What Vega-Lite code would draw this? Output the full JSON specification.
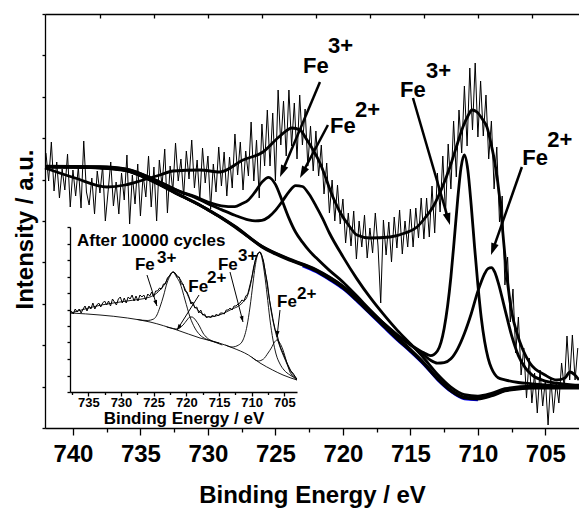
{
"$schema": "https://vega.github.io/schema/vega-lite/v6.json",
"width": 534, "height": 414,
"autosize": {"type": "none"},
"padding": {"left": 45, "top": 14, "right": 0, "bottom": 81},
"config": {"view": {"stroke": null},
 "axis": {"grid": false, "domainColor": "#000", "tickColor": "#000", "labelColor": "#000", "titleColor": "#000", "labelFont": "Liberation Sans", "titleFont": "Liberation Sans", "labelFontWeight": "bold", "titleFontWeight": "bold", "labelFlush": false, "labelOverlap": false, "domainWidth": 1.3, "tickWidth": 1.3},
 "text": {"font": "Liberation Sans"}},
"datasets": {
"raw": [
{"E":742.0,"I":275},{"E":741.8,"I":247},{"E":741.6,"I":286},{"E":741.4,"I":237},{"E":741.2,"I":266},{"E":741.0,"I":230},{"E":740.8,"I":259},{"E":740.6,"I":238},{"E":740.4,"I":274},{"E":740.2,"I":221},
{"E":740.0,"I":258},{"E":739.8,"I":232},{"E":739.6,"I":261},{"E":739.4,"I":220},{"E":739.2,"I":287},{"E":739.0,"I":236},{"E":738.8,"I":223},{"E":738.6,"I":250},{"E":738.4,"I":214},{"E":738.2,"I":257},
{"E":738.0,"I":235},{"E":737.8,"I":262},{"E":737.6,"I":207},{"E":737.4,"I":236},{"E":737.2,"I":266},{"E":737.0,"I":222},{"E":736.8,"I":246},{"E":736.6,"I":214},{"E":736.4,"I":255},{"E":736.2,"I":228},
{"E":736.0,"I":273},{"E":735.8,"I":204},{"E":735.6,"I":253},{"E":735.4,"I":224},{"E":735.2,"I":264},{"E":735.0,"I":212},{"E":734.8,"I":253},{"E":734.6,"I":231},{"E":734.4,"I":272},{"E":734.2,"I":221},
{"E":734.0,"I":261},{"E":733.8,"I":207},{"E":733.6,"I":268},{"E":733.4,"I":242},{"E":733.2,"I":279},{"E":733.0,"I":215},{"E":732.8,"I":262},{"E":732.6,"I":237},{"E":732.4,"I":285},{"E":732.2,"I":247},
{"E":732.0,"I":269},{"E":731.8,"I":232},{"E":731.6,"I":277},{"E":731.4,"I":249},{"E":731.2,"I":288},{"E":731.0,"I":240},{"E":730.8,"I":268},{"E":730.6,"I":228},{"E":730.4,"I":280},{"E":730.2,"I":245},
{"E":730.0,"I":272},{"E":729.8,"I":219},{"E":729.6,"I":264},{"E":729.4,"I":236},{"E":729.2,"I":281},{"E":729.0,"I":242},{"E":728.8,"I":276},{"E":728.6,"I":232},{"E":728.4,"I":271},{"E":728.2,"I":240},
{"E":728.0,"I":294},{"E":727.8,"I":253},{"E":727.6,"I":286},{"E":727.4,"I":238},{"E":727.2,"I":277},{"E":727.0,"I":252},{"E":726.8,"I":306},{"E":726.6,"I":247},{"E":726.4,"I":288},{"E":726.2,"I":230},
{"E":726.0,"I":304},{"E":725.8,"I":262},{"E":725.6,"I":318},{"E":725.4,"I":262},{"E":725.2,"I":315},{"E":725.0,"I":247},{"E":724.8,"I":338},{"E":724.6,"I":283},{"E":724.4,"I":327},{"E":724.2,"I":272},
{"E":724.0,"I":338},{"E":723.8,"I":282},{"E":723.6,"I":325},{"E":723.4,"I":269},{"E":723.2,"I":333},{"E":723.0,"I":283},{"E":722.8,"I":319},{"E":722.6,"I":262},{"E":722.4,"I":302},{"E":722.2,"I":257},
{"E":722.0,"I":297},{"E":721.8,"I":252},{"E":721.6,"I":283},{"E":721.4,"I":234},{"E":721.2,"I":265},{"E":721.0,"I":215},{"E":720.8,"I":248},{"E":720.6,"I":207},{"E":720.4,"I":243},{"E":720.2,"I":204},
{"E":720.0,"I":229},{"E":719.8,"I":185},{"E":719.6,"I":215},{"E":719.4,"I":182},{"E":719.2,"I":217},{"E":719.0,"I":169},{"E":718.8,"I":207},{"E":718.6,"I":181},{"E":718.4,"I":213},{"E":718.2,"I":170},
{"E":718.0,"I":200},{"E":717.8,"I":175},{"E":717.6,"I":215},{"E":717.4,"I":182},{"E":717.2,"I":125},{"E":717.0,"I":208},{"E":716.8,"I":173},{"E":716.6,"I":206},{"E":716.4,"I":166},{"E":716.2,"I":211},
{"E":716.0,"I":180},{"E":715.8,"I":218},{"E":715.6,"I":174},{"E":715.4,"I":207},{"E":715.2,"I":181},{"E":715.0,"I":219},{"E":714.8,"I":181},{"E":714.6,"I":220},{"E":714.4,"I":190},{"E":714.2,"I":230},
{"E":714.0,"I":189},{"E":713.8,"I":230},{"E":713.6,"I":191},{"E":713.4,"I":242},{"E":713.2,"I":195},{"E":713.0,"I":255},{"E":712.8,"I":216},{"E":712.6,"I":272},{"E":712.4,"I":214},{"E":712.2,"I":284},
{"E":712.0,"I":239},{"E":711.8,"I":307},{"E":711.6,"I":251},{"E":711.4,"I":318},{"E":711.2,"I":275},{"E":711.0,"I":342},{"E":710.8,"I":282},{"E":710.6,"I":360},{"E":710.4,"I":298},{"E":710.2,"I":365},
{"E":710.0,"I":291},{"E":709.8,"I":347},{"E":709.6,"I":292},{"E":709.4,"I":333},{"E":709.2,"I":269},{"E":709.0,"I":307},{"E":708.8,"I":239},{"E":708.6,"I":281},{"E":708.4,"I":206},{"E":708.2,"I":232},
{"E":708.0,"I":143},{"E":707.8,"I":171},{"E":707.6,"I":106},{"E":707.4,"I":139},{"E":707.2,"I":75},{"E":707.0,"I":111},{"E":706.8,"I":53},{"E":706.6,"I":80},{"E":706.4,"I":30},{"E":706.2,"I":70},
{"E":706.0,"I":25},{"E":705.8,"I":55},{"E":705.6,"I":15},{"E":705.4,"I":58},{"E":705.2,"I":22},{"E":705.0,"I":48},{"E":704.8,"I":3},{"E":704.6,"I":50},{"E":704.4,"I":15},{"E":704.2,"I":45},
{"E":704.0,"I":25},{"E":703.8,"I":65},{"E":703.6,"I":40},{"E":703.4,"I":92},{"E":703.2,"I":48},{"E":703.0,"I":93},{"E":702.8,"I":48},{"E":702.6,"I":80}
],
"blue": [
{"E":723,"I":161.5},{"E":722,"I":155.6},{"E":721,"I":147.6},{"E":720,"I":138.5},{"E":719,"I":126.6},{"E":718,"I":113.6},{"E":717,"I":100.5},{"E":716,"I":87.6},{"E":715,"I":75.6},{"E":714,"I":62.6},{"E":713,"I":47.6},{"E":712,"I":35.8},{"E":711,"I":28.6},{"E":710,"I":27.6}
],
"fits": [
{"s":"bg","E":742,"I":261},{"s":"bg","E":740,"I":261},{"s":"bg","E":738,"I":260},{"s":"bg","E":736,"I":257},{"s":"bg","E":734,"I":246},{"s":"bg","E":732,"I":232},{"s":"bg","E":731,"I":226},{"s":"bg","E":730,"I":218},{"s":"bg","E":729,"I":210},{"s":"bg","E":728,"I":201},{"s":"bg","E":727,"I":191},{"s":"bg","E":726,"I":181},{"s":"bg","E":725,"I":174},{"s":"bg","E":724,"I":168},{"s":"bg","E":723,"I":163},{"s":"bg","E":722,"I":157},{"s":"bg","E":721,"I":149},{"s":"bg","E":720,"I":140},{"s":"bg","E":719,"I":128},{"s":"bg","E":718,"I":115},{"s":"bg","E":717,"I":102},{"s":"bg","E":716,"I":89},{"s":"bg","E":715,"I":77},{"s":"bg","E":714,"I":64},{"s":"bg","E":713,"I":49},{"s":"bg","E":712,"I":37},{"s":"bg","E":711,"I":30},{"s":"bg","E":710,"I":29},{"s":"bg","E":709,"I":32},{"s":"bg","E":708,"I":37},{"s":"bg","E":707,"I":39},{"s":"bg","E":706,"I":40},{"s":"bg","E":704,"I":40},{"s":"bg","E":702.51,"I":40},
{"s":"A","E":742,"I":261.7},{"s":"A","E":738,"I":261.2},{"s":"A","E":736,"I":258.7},{"s":"A","E":734,"I":248.5},{"s":"A","E":732,"I":236.1},{"s":"A","E":731,"I":231.6},{"s":"A","E":730,"I":226},{"s":"A","E":729,"I":222.2},{"s":"A","E":728,"I":221.3},{"s":"A","E":727.5,"I":224.2},{"s":"A","E":727,"I":228},{"s":"A","E":726.5,"I":236.2},{"s":"A","E":726,"I":245.9},{"s":"A","E":725.5,"I":250.7},{"s":"A","E":725,"I":243.6},{"s":"A","E":724.5,"I":227.2},{"s":"A","E":724,"I":209.9},{"s":"A","E":723.5,"I":195.7},{"s":"A","E":723,"I":185.8},{"s":"A","E":722.5,"I":177.3},{"s":"A","E":722,"I":170.4},{"s":"A","E":721,"I":157.6},{"s":"A","E":720,"I":146},{"s":"A","E":719,"I":132.4},{"s":"A","E":718,"I":118.3},{"s":"A","E":717,"I":104.6},{"s":"A","E":716,"I":91.1},{"s":"A","E":715,"I":78.7},{"s":"A","E":714,"I":65.4},{"s":"A","E":713,"I":50.2},{"s":"A","E":712,"I":38},{"s":"A","E":711,"I":30.9},{"s":"A","E":710,"I":29.8},{"s":"A","E":709,"I":32.7},{"s":"A","E":708,"I":37.6},{"s":"A","E":707,"I":39.6},{"s":"A","E":706,"I":40.5},{"s":"A","E":704,"I":40.4},{"s":"A","E":702.51,"I":40.35},
{"s":"B","E":742,"I":261.9},{"s":"B","E":738,"I":261.4},{"s":"B","E":736,"I":258.9},{"s":"B","E":734,"I":248.6},{"s":"B","E":732,"I":235.9},{"s":"B","E":731,"I":230.9},{"s":"B","E":730,"I":224.3},{"s":"B","E":729,"I":218.4},{"s":"B","E":728,"I":212.7},{"s":"B","E":727,"I":208.1},{"s":"B","E":726.5,"I":207.2},{"s":"B","E":726,"I":207.7},{"s":"B","E":725.5,"I":211},{"s":"B","E":725,"I":217.6},{"s":"B","E":724.5,"I":226.5},{"s":"B","E":724,"I":236.1},{"s":"B","E":723.5,"I":242.3},{"s":"B","E":723,"I":241.5},{"s":"B","E":722.5,"I":233.7},{"s":"B","E":722,"I":222.1},{"s":"B","E":721.5,"I":209.3},{"s":"B","E":721,"I":195},{"s":"B","E":720,"I":171.4},{"s":"B","E":719,"I":149.9},{"s":"B","E":718,"I":130.8},{"s":"B","E":717,"I":113.8},{"s":"B","E":716,"I":98.1},{"s":"B","E":715,"I":84.2},{"s":"B","E":714,"I":69.8},{"s":"B","E":713,"I":53.8},{"s":"B","E":712,"I":41},{"s":"B","E":711,"I":33.4},{"s":"B","E":710,"I":31.9},{"s":"B","E":709,"I":34.6},{"s":"B","E":708,"I":39.3},{"s":"B","E":706,"I":41.8},{"s":"B","E":704,"I":41.4},{"s":"B","E":702.51,"I":41.2},
{"s":"C","E":742,"I":261.1},{"s":"C","E":738,"I":260.2},{"s":"C","E":736,"I":257.2},{"s":"C","E":734,"I":246.3},{"s":"C","E":732,"I":232.4},{"s":"C","E":730,"I":218.3},{"s":"C","E":728,"I":201.4},{"s":"C","E":726,"I":181.5},{"s":"C","E":724,"I":168.7},{"s":"C","E":722,"I":158},{"s":"C","E":720,"I":141.3},{"s":"C","E":719,"I":129.7},{"s":"C","E":718,"I":117.2},{"s":"C","E":717,"I":104.9},{"s":"C","E":716,"I":93.2},{"s":"C","E":715,"I":83.5},{"s":"C","E":714,"I":75.2},{"s":"C","E":713.5,"I":72.3},{"s":"C","E":713,"I":77},{"s":"C","E":712.5,"I":99.5},{"s":"C","E":712,"I":151},{"s":"C","E":711.75,"I":188.6},{"s":"C","E":711.5,"I":228},{"s":"C","E":711.25,"I":260.4},{"s":"C","E":711,"I":273},{"s":"C","E":710.75,"I":258.4},{"s":"C","E":710.5,"I":223.4},{"s":"C","E":710.25,"I":181.7},{"s":"C","E":710,"I":143},{"s":"C","E":709.75,"I":110.1},{"s":"C","E":709.5,"I":86.5},{"s":"C","E":709.25,"I":70.2},{"s":"C","E":709,"I":60},{"s":"C","E":708.75,"I":53.8},{"s":"C","E":708.5,"I":50.3},{"s":"C","E":708,"I":48.2},{"s":"C","E":707,"I":45.5},{"s":"C","E":706,"I":44.2},{"s":"C","E":705,"I":43},{"s":"C","E":704,"I":42.2},{"s":"C","E":702.51,"I":41.5},
{"s":"D","E":742,"I":261.2},{"s":"D","E":738,"I":260.3},{"s":"D","E":736,"I":257.4},{"s":"D","E":734,"I":246.4},{"s":"D","E":732,"I":232.5},{"s":"D","E":730,"I":218.5},{"s":"D","E":728,"I":201.8},{"s":"D","E":726,"I":181.8},{"s":"D","E":724,"I":169.2},{"s":"D","E":722,"I":158.5},{"s":"D","E":720,"I":141.9},{"s":"D","E":718,"I":117.8},{"s":"D","E":717,"I":104.9},{"s":"D","E":716,"I":93.5},{"s":"D","E":715,"I":83.1},{"s":"D","E":714,"I":73.1},{"s":"D","E":713.5,"I":67.7},{"s":"D","E":713,"I":64.9},{"s":"D","E":712.5,"I":65.4},{"s":"D","E":712,"I":69.2},{"s":"D","E":711.5,"I":79.2},{"s":"D","E":711,"I":94.5},{"s":"D","E":710.5,"I":114},{"s":"D","E":710,"I":136.9},{"s":"D","E":709.75,"I":146.2},{"s":"D","E":709.5,"I":154.3},{"s":"D","E":709.25,"I":159.4},{"s":"D","E":709,"I":160.4},{"s":"D","E":708.75,"I":155.8},{"s":"D","E":708.5,"I":145.7},{"s":"D","E":708,"I":118.9},{"s":"D","E":707.5,"I":92.3},{"s":"D","E":707,"I":72.4},{"s":"D","E":706.5,"I":60.4},{"s":"D","E":706,"I":53.1},{"s":"D","E":705,"I":46.9},{"s":"D","E":704,"I":44.5},{"s":"D","E":703,"I":43.2},{"s":"D","E":702.51,"I":42.8},
{"s":"env","E":742.07,"I":260},{"s":"env","E":739.85,"I":250},{"s":"env","E":737.48,"I":241},{"s":"env","E":736.14,"I":243},{"s":"env","E":734.81,"I":248},{"s":"env","E":733.55,"I":253},{"s":"env","E":732.59,"I":257},{"s":"env","E":730.59,"I":258},{"s":"env","E":729.11,"I":256},{"s":"env","E":727.4,"I":268},{"s":"env","E":725.92,"I":276},{"s":"env","E":724.66,"I":292},{"s":"env","E":723.77,"I":300},{"s":"env","E":723.18,"I":298},{"s":"env","E":722.66,"I":288},{"s":"env","E":721.7,"I":265},{"s":"env","E":720.74,"I":231},{"s":"env","E":720.22,"I":216},{"s":"env","E":719.48,"I":201},{"s":"env","E":718.96,"I":193},{"s":"env","E":718.0,"I":190},{"s":"env","E":716.51,"I":191},{"s":"env","E":715.4,"I":195},{"s":"env","E":714.51,"I":201},{"s":"env","E":713.92,"I":210},{"s":"env","E":713.33,"I":221},{"s":"env","E":712.66,"I":240},{"s":"env","E":712.07,"I":261},{"s":"env","E":711.55,"I":283},{"s":"env","E":711.11,"I":301},{"s":"env","E":710.74,"I":312},{"s":"env","E":710.44,"I":318},{"s":"env","E":710.07,"I":316},{"s":"env","E":709.63,"I":308},{"s":"env","E":709.33,"I":301},{"s":"env","E":709.04,"I":285},{"s":"env","E":708.74,"I":265},{"s":"env","E":708.37,"I":228},{"s":"env","E":708.07,"I":183},{"s":"env","E":707.78,"I":143},{"s":"env","E":707.48,"I":115},{"s":"env","E":707.11,"I":95},{"s":"env","E":706.66,"I":78},{"s":"env","E":706.15,"I":65},{"s":"env","E":705.03,"I":53},{"s":"env","E":704.15,"I":48},{"s":"env","E":703.55,"I":50},{"s":"env","E":703.18,"I":56},{"s":"env","E":702.81,"I":53},{"s":"env","E":702.51,"I":48}
],
"arrows": [
{"E":721.7,"I":346,"E2":724.49,"I2":256.5},
{"E":721.11,"I":303,"E2":722.98,"I2":255.3},
{"E":714.81,"I":330,"E2":712.2,"I2":208.8},
{"E":706.74,"I":261,"E2":708.88,"I2":178.7}
],
"labels": [
{"E":722.96,"I":355,"t":"Fe"},{"E":721.11,"I":375,"t":"3+"},
{"E":720.96,"I":294.7,"t":"Fe"},{"E":719.11,"I":311.3,"t":"2+"},
{"E":715.77,"I":331.3,"t":"Fe"},{"E":713.85,"I":349.7,"t":"3+"},
{"E":706.71,"I":263,"t":"Fe"},{"E":704.86,"I":281.3,"t":"2+"}
],
"iraw": [
{"E":737.6,"I":81},{"E":737.3,"I":78},{"E":737.0,"I":83},{"E":736.7,"I":80},{"E":736.4,"I":83},{"E":736.1,"I":79},{"E":735.8,"I":83},{"E":735.5,"I":86},{"E":735.2,"I":81},{"E":734.9,"I":86},
{"E":734.6,"I":83},{"E":734.3,"I":89},{"E":734.0,"I":83},{"E":733.7,"I":87},{"E":733.4,"I":89},{"E":733.1,"I":85},{"E":732.8,"I":89},{"E":732.5,"I":91},{"E":732.2,"I":87},{"E":731.9,"I":91},
{"E":731.6,"I":86},{"E":731.3,"I":93},{"E":731.0,"I":90},{"E":730.7,"I":87},{"E":730.4,"I":93},{"E":730.1,"I":95},{"E":729.8,"I":89},{"E":729.5,"I":94},{"E":729.2,"I":89},{"E":728.9,"I":95},
{"E":728.6,"I":93},{"E":728.3,"I":97},{"E":728.0,"I":91},{"E":727.7,"I":96},{"E":727.4,"I":91},{"E":727.1,"I":97},{"E":726.8,"I":95},{"E":726.5,"I":97},{"E":726.2,"I":92},{"E":725.9,"I":98},
{"E":725.6,"I":96},{"E":725.3,"I":100},{"E":725.0,"I":95},{"E":724.7,"I":101},{"E":724.4,"I":101},{"E":724.1,"I":104},{"E":723.8,"I":103},{"E":723.5,"I":108},{"E":723.2,"I":108},{"E":722.9,"I":114},
{"E":722.6,"I":116},{"E":722.3,"I":119},{"E":722.0,"I":120},{"E":721.7,"I":119},{"E":721.4,"I":115},{"E":721.1,"I":115},{"E":720.8,"I":108},{"E":720.5,"I":108},{"E":720.2,"I":101},{"E":719.9,"I":100},
{"E":719.6,"I":95},{"E":719.3,"I":88},{"E":719.0,"I":90},{"E":718.7,"I":84},{"E":718.4,"I":85},{"E":718.1,"I":79},{"E":717.8,"I":82},{"E":717.5,"I":77},{"E":717.2,"I":78},{"E":716.9,"I":74},
{"E":716.6,"I":76},{"E":716.3,"I":74},{"E":716.0,"I":77},{"E":715.7,"I":75},{"E":715.4,"I":78},{"E":715.1,"I":76},{"E":714.8,"I":79},{"E":714.5,"I":79},{"E":714.2,"I":78},{"E":713.9,"I":82},
{"E":713.6,"I":82},{"E":713.3,"I":84},{"E":713.0,"I":82},{"E":712.7,"I":86},{"E":712.4,"I":86},{"E":712.1,"I":88},{"E":711.8,"I":89},{"E":711.5,"I":92},{"E":711.2,"I":91},{"E":710.9,"I":96},
{"E":710.6,"I":98},{"E":710.3,"I":106},{"E":710.0,"I":114},{"E":709.7,"I":125},{"E":709.4,"I":133},{"E":709.1,"I":138},{"E":708.8,"I":140},{"E":708.5,"I":137},{"E":708.2,"I":131},{"E":707.9,"I":119},
{"E":707.6,"I":109},{"E":707.3,"I":93},{"E":707.0,"I":82},{"E":706.7,"I":71},{"E":706.4,"I":62},{"E":706.1,"I":57},{"E":705.8,"I":49},{"E":705.5,"I":43},{"E":705.2,"I":39},{"E":704.9,"I":34},
{"E":704.6,"I":29},{"E":704.3,"I":25},{"E":704.0,"I":21},{"E":703.7,"I":19},{"E":703.4,"I":16},{"E":703.1,"I":13}
],
"ifits": [
{"s":"bg","E":737.65,"I":79},{"s":"bg","E":733.21,"I":77},{"s":"bg","E":729.0,"I":74},{"s":"bg","E":725.56,"I":70},{"s":"bg","E":721.43,"I":62},{"s":"bg","E":717.91,"I":54},{"s":"bg","E":715.0,"I":49},{"s":"bg","E":712.86,"I":44},{"s":"bg","E":710.5,"I":37},{"s":"bg","E":708.73,"I":29},{"s":"bg","E":706.8,"I":22},{"s":"bg","E":705.21,"I":17},{"s":"bg","E":704.0,"I":14},{"s":"bg","E":703.07,"I":12},
{"s":"A","E":727.5,"I":72.5},{"s":"A","E":726,"I":71.5},{"s":"A","E":725,"I":73},{"s":"A","E":724.5,"I":77},{"s":"A","E":724.03,"I":85},{"s":"A","E":723.5,"I":96},{"s":"A","E":722.96,"I":109},{"s":"A","E":722.5,"I":116},{"s":"A","E":722.04,"I":120},{"s":"A","E":721.5,"I":115},{"s":"A","E":720.97,"I":109},{"s":"A","E":720.2,"I":92},{"s":"A","E":719.44,"I":75},{"s":"A","E":718.7,"I":64},{"s":"A","E":717.91,"I":57},{"s":"A","E":717.0,"I":53},{"s":"A","E":716.38,"I":51.5},{"s":"A","E":715.5,"I":49.5},{"s":"A","E":714.5,"I":47},
{"s":"B","E":723,"I":65},{"s":"B","E":722,"I":63.5},{"s":"B","E":721.43,"I":63},{"s":"B","E":720.5,"I":67},{"s":"B","E":719.9,"I":72},{"s":"B","E":719.44,"I":75},{"s":"B","E":719.13,"I":75},{"s":"B","E":718.6,"I":72},{"s":"B","E":718.0,"I":66},{"s":"B","E":717.45,"I":59},{"s":"B","E":716.8,"I":54},{"s":"B","E":716.0,"I":51},{"s":"B","E":715,"I":49},
{"s":"C","E":714,"I":47},{"s":"C","E":713.0,"I":45},{"s":"C","E":712.0,"I":47},{"s":"C","E":711.33,"I":52},{"s":"C","E":710.72,"I":66},{"s":"C","E":710.26,"I":85},{"s":"C","E":709.8,"I":109},{"s":"C","E":709.49,"I":125},{"s":"C","E":709.04,"I":138},{"s":"C","E":708.73,"I":140},{"s":"C","E":708.4,"I":133},{"s":"C","E":707.97,"I":115},{"s":"C","E":707.66,"I":98},{"s":"C","E":707.2,"I":72},{"s":"C","E":706.74,"I":52},{"s":"C","E":706.28,"I":38},{"s":"C","E":705.67,"I":28},{"s":"C","E":705.06,"I":22},{"s":"C","E":704.15,"I":17},{"s":"C","E":703.07,"I":13},
{"s":"D","E":710,"I":35},{"s":"D","E":709,"I":31},{"s":"D","E":708.2,"I":33},{"s":"D","E":707.5,"I":39},{"s":"D","E":707.0,"I":44},{"s":"D","E":706.5,"I":50},{"s":"D","E":706.13,"I":52},{"s":"D","E":705.7,"I":49},{"s":"D","E":705.21,"I":42},{"s":"D","E":704.7,"I":31},{"s":"D","E":704.15,"I":20},{"s":"D","E":703.6,"I":15},{"s":"D","E":703.07,"I":12},
{"s":"env","E":737.65,"I":79},{"s":"env","E":733.0,"I":87},{"s":"env","E":729.08,"I":91},{"s":"env","E":725.56,"I":95},{"s":"env","E":724.5,"I":99},{"s":"env","E":724.03,"I":102},{"s":"env","E":723.5,"I":106},{"s":"env","E":722.96,"I":112},{"s":"env","E":722.5,"I":117},{"s":"env","E":722.04,"I":120},{"s":"env","E":721.5,"I":117},{"s":"env","E":720.97,"I":113},{"s":"env","E":720.2,"I":103},{"s":"env","E":719.44,"I":92},{"s":"env","E":718.7,"I":85},{"s":"env","E":717.91,"I":80},{"s":"env","E":716.69,"I":75},{"s":"env","E":715.5,"I":76},{"s":"env","E":714.54,"I":78},{"s":"env","E":713.0,"I":83},{"s":"env","E":712.0,"I":86},{"s":"env","E":711.3,"I":90},{"s":"env","E":710.72,"I":95},{"s":"env","E":710.26,"I":105},{"s":"env","E":709.8,"I":120},{"s":"env","E":709.3,"I":135},{"s":"env","E":708.73,"I":140},{"s":"env","E":708.3,"I":133},{"s":"env","E":707.97,"I":122},{"s":"env","E":707.51,"I":102},{"s":"env","E":707.0,"I":80},{"s":"env","E":706.28,"I":58},{"s":"env","E":705.67,"I":45},{"s":"env","E":705.06,"I":35},{"s":"env","E":704.15,"I":22},{"s":"env","E":703.07,"I":13}
],
"iarrows": [
{"E":726.02,"I":117,"E2":724.49,"I2":86},
{"E":718.06,"I":97,"E2":721.43,"I2":62},
{"E":713.32,"I":120,"E2":711.33,"I2":70},
{"E":705.67,"I":82,"E2":706.13,"I2":55}
],
"ilabels": [
{"E":727.86,"I":122,"t":"Fe"},{"E":724.49,"I":129,"t":"3+"},
{"E":719.7,"I":100.3,"t":"Fe"},{"E":716.84,"I":109,"t":"2+"},
{"E":715.16,"I":122,"t":"Fe"},{"E":712.1,"I":131,"t":"3+"},
{"E":706.13,"I":85,"t":"Fe"},{"E":703.07,"I":93,"t":"2+"},
{"E":736.73,"I":146,"t":"After 10000 cycles"}
]
},
"layer": [
{
 "encoding": {
  "x": {"field": "E", "type": "quantitative", "scale": {"domain": [742.07, 702.51], "nice": false, "zero": false}, "axis": null},
  "y": {"field": "I", "type": "quantitative", "scale": {"domain": [0, 414], "nice": false, "zero": false}, "axis": null}
 },
 "layer": [
  {"data": {"name": "raw"}, "mark": {"type": "line", "color": "#000", "strokeWidth": 1},
   "encoding": {
    "x": {"field": "E", "type": "quantitative", "scale": {"domain": [742.07, 702.51], "nice": false, "zero": false},
          "axis": {"orient": "bottom", "values": [740,735,730,725,720,715,710,705], "tickSize": 7, "labelFontSize": 24, "labelPadding": 26, "labelBaseline": "alphabetic", "title": "Binding Energy / eV", "titleFontSize": 24, "titleY": 74, "titleBaseline": "alphabetic"}},
    "y": {"field": "I", "type": "quantitative", "scale": {"domain": [0, 414], "nice": false, "zero": false},
          "axis": {"orient": "left", "values": [0,41.4,82.8,124.2,165.6,207,248.4,289.8,331.2,372.6,414], "labels": false, "tickSize": 3, "title": "Intensity / a.u.", "titleFontSize": 24, "titleX": -13, "titleY": 215, "titleAngle": -90, "titleBaseline": "alphabetic", "titleAlign": "center"}}
   }},
  {"data": {"name": "blue"}, "mark": {"type": "line", "color": "#0000ff", "strokeWidth": 1.5, "interpolate": "monotone"},
   "encoding": {
    "x": {"field": "E", "type": "quantitative", "scale": {"domain": [742.07, 702.51], "nice": false, "zero": false},
          "axis": {"orient": "bottom", "values": [737.5,732.5,727.5,722.5,717.5,712.5,707.5], "tickSize": 4, "labels": false, "domain": false, "title": null}}
   }},
  {"data": {"name": "fits"}, "mark": {"type": "line", "color": "#000", "strokeWidth": 2.8, "interpolate": "monotone"},
   "encoding": {
    "detail": {"field": "s"},
    "x": {"field": "E", "type": "quantitative", "scale": {"domain": [742.07, 702.51], "nice": false, "zero": false},
          "axis": {"orient": "top", "values": [738,734,730,726,722,718,714,710,706], "tickSize": -4, "labels": false, "title": null}}
   }},
  {"data": {"name": "arrows"}, "mark": {"type": "rule", "color": "#000", "strokeWidth": 2.5},
   "encoding": {"x2": {"field": "E2"}, "y2": {"field": "I2"}}},
  {"data": {"values": [{"E": 724.66, "I": 251}]}, "mark": {"type": "point", "shape": "M0,0L-1.3,4L1.3,4Z", "size": 36, "angle": 202.8, "filled": true, "color": "#000", "opacity": 1, "strokeWidth": 0}},
  {"data": {"values": [{"E": 723.18, "I": 250}]}, "mark": {"type": "point", "shape": "M0,0L-1.3,4L1.3,4Z", "size": 36, "angle": 207.8, "filled": true, "color": "#000", "opacity": 1, "strokeWidth": 0}},
  {"data": {"values": [{"E": 712.07, "I": 203}]}, "mark": {"type": "point", "shape": "M0,0L-1.3,4L1.3,4Z", "size": 36, "angle": 163.8, "filled": true, "color": "#000", "opacity": 1, "strokeWidth": 0}},
  {"data": {"values": [{"E": 709.03, "I": 173}]}, "mark": {"type": "point", "shape": "M0,0L-1.3,4L1.3,4Z", "size": 36, "angle": 199.4, "filled": true, "color": "#000", "opacity": 1, "strokeWidth": 0}},
  {"data": {"name": "labels"}, "mark": {"type": "text", "font": "Liberation Sans", "fontSize": 22, "fontWeight": "bold", "align": "left", "baseline": "alphabetic", "color": "#000"},
   "encoding": {"text": {"field": "t"}}}
 ],
 "resolve": {"axis": {"x": "independent", "y": "independent"}}
},
{
 "encoding": {
  "x": {"field": "E", "type": "quantitative", "scale": {"domain": [737.8, 703.07], "range": [25, 252], "nice": false, "zero": false}, "axis": null},
  "y": {"field": "I", "type": "quantitative", "scale": {"domain": [0, 165], "range": [378, 213], "nice": false, "zero": false}, "axis": null}
 },
 "layer": [
  {"data": {"name": "iraw"}, "mark": {"type": "line", "color": "#000", "strokeWidth": 1},
   "encoding": {
    "x": {"field": "E", "type": "quantitative", "scale": {"domain": [737.8, 703.07], "range": [25, 252], "nice": false, "zero": false},
          "axis": {"orient": "bottom", "offset": -36, "values": [735,730,725,720,715,710,705], "tickSize": 4, "labelFontSize": 13, "labelPadding": 10, "labelBaseline": "alphabetic", "title": "Binding Energy / eV", "titleFontSize": 17, "titleY": 31, "titleBaseline": "alphabetic"}},
    "y": {"field": "I", "type": "quantitative", "scale": {"domain": [0, 165], "range": [378, 213], "nice": false, "zero": false},
          "axis": {"orient": "left", "offset": -25, "values": [0,16.5,33,49.5,66,82.5,99,115.5,132,148.5,165], "labels": false, "tickSize": 3, "title": null}}
   }},
  {"data": {"name": "ifits"}, "mark": {"type": "line", "color": "#000", "strokeWidth": 0.9, "interpolate": "monotone"},
   "encoding": {
    "detail": {"field": "s"},
    "x": {"field": "E", "type": "quantitative", "scale": {"domain": [737.8, 703.07], "range": [25, 252], "nice": false, "zero": false},
          "axis": {"orient": "bottom", "offset": -36, "values": [737.5,732.5,727.5,722.5,717.5,712.5,707.5], "tickSize": 2.5, "labels": false, "domain": false, "title": null}}
   }},
  {"data": {"name": "iarrows"}, "mark": {"type": "rule", "color": "#000", "strokeWidth": 1},
   "encoding": {"x2": {"field": "E2"}, "y2": {"field": "I2"}}},
  {"data": {"values": [{"E": 724.49, "I": 86}]}, "mark": {"type": "point", "shape": "M0,0L-1.3,4L1.3,4Z", "size": 9, "angle": 162.1, "filled": true, "color": "#000", "opacity": 1, "strokeWidth": 0}},
  {"data": {"values": [{"E": 721.43, "I": 62}]}, "mark": {"type": "point", "shape": "M0,0L-1.3,4L1.3,4Z", "size": 9, "angle": 212.2, "filled": true, "color": "#000", "opacity": 1, "strokeWidth": 0}},
  {"data": {"values": [{"E": 711.33, "I": 70}]}, "mark": {"type": "point", "shape": "M0,0L-1.3,4L1.3,4Z", "size": 9, "angle": 165.4, "filled": true, "color": "#000", "opacity": 1, "strokeWidth": 0}},
  {"data": {"values": [{"E": 706.13, "I": 55}]}, "mark": {"type": "point", "shape": "M0,0L-1.3,4L1.3,4Z", "size": 9, "angle": 186.3, "filled": true, "color": "#000", "opacity": 1, "strokeWidth": 0}},
  {"data": {"name": "ilabels"}, "mark": {"type": "text", "font": "Liberation Sans", "fontSize": 17, "fontWeight": "bold", "align": "left", "baseline": "alphabetic", "color": "#000"},
   "encoding": {"text": {"field": "t"}}}
 ],
 "resolve": {"axis": {"x": "independent", "y": "independent"}}
}
],
"resolve": {"scale": {"x": "independent", "y": "independent"}, "axis": {"x": "independent", "y": "independent"}}
}
